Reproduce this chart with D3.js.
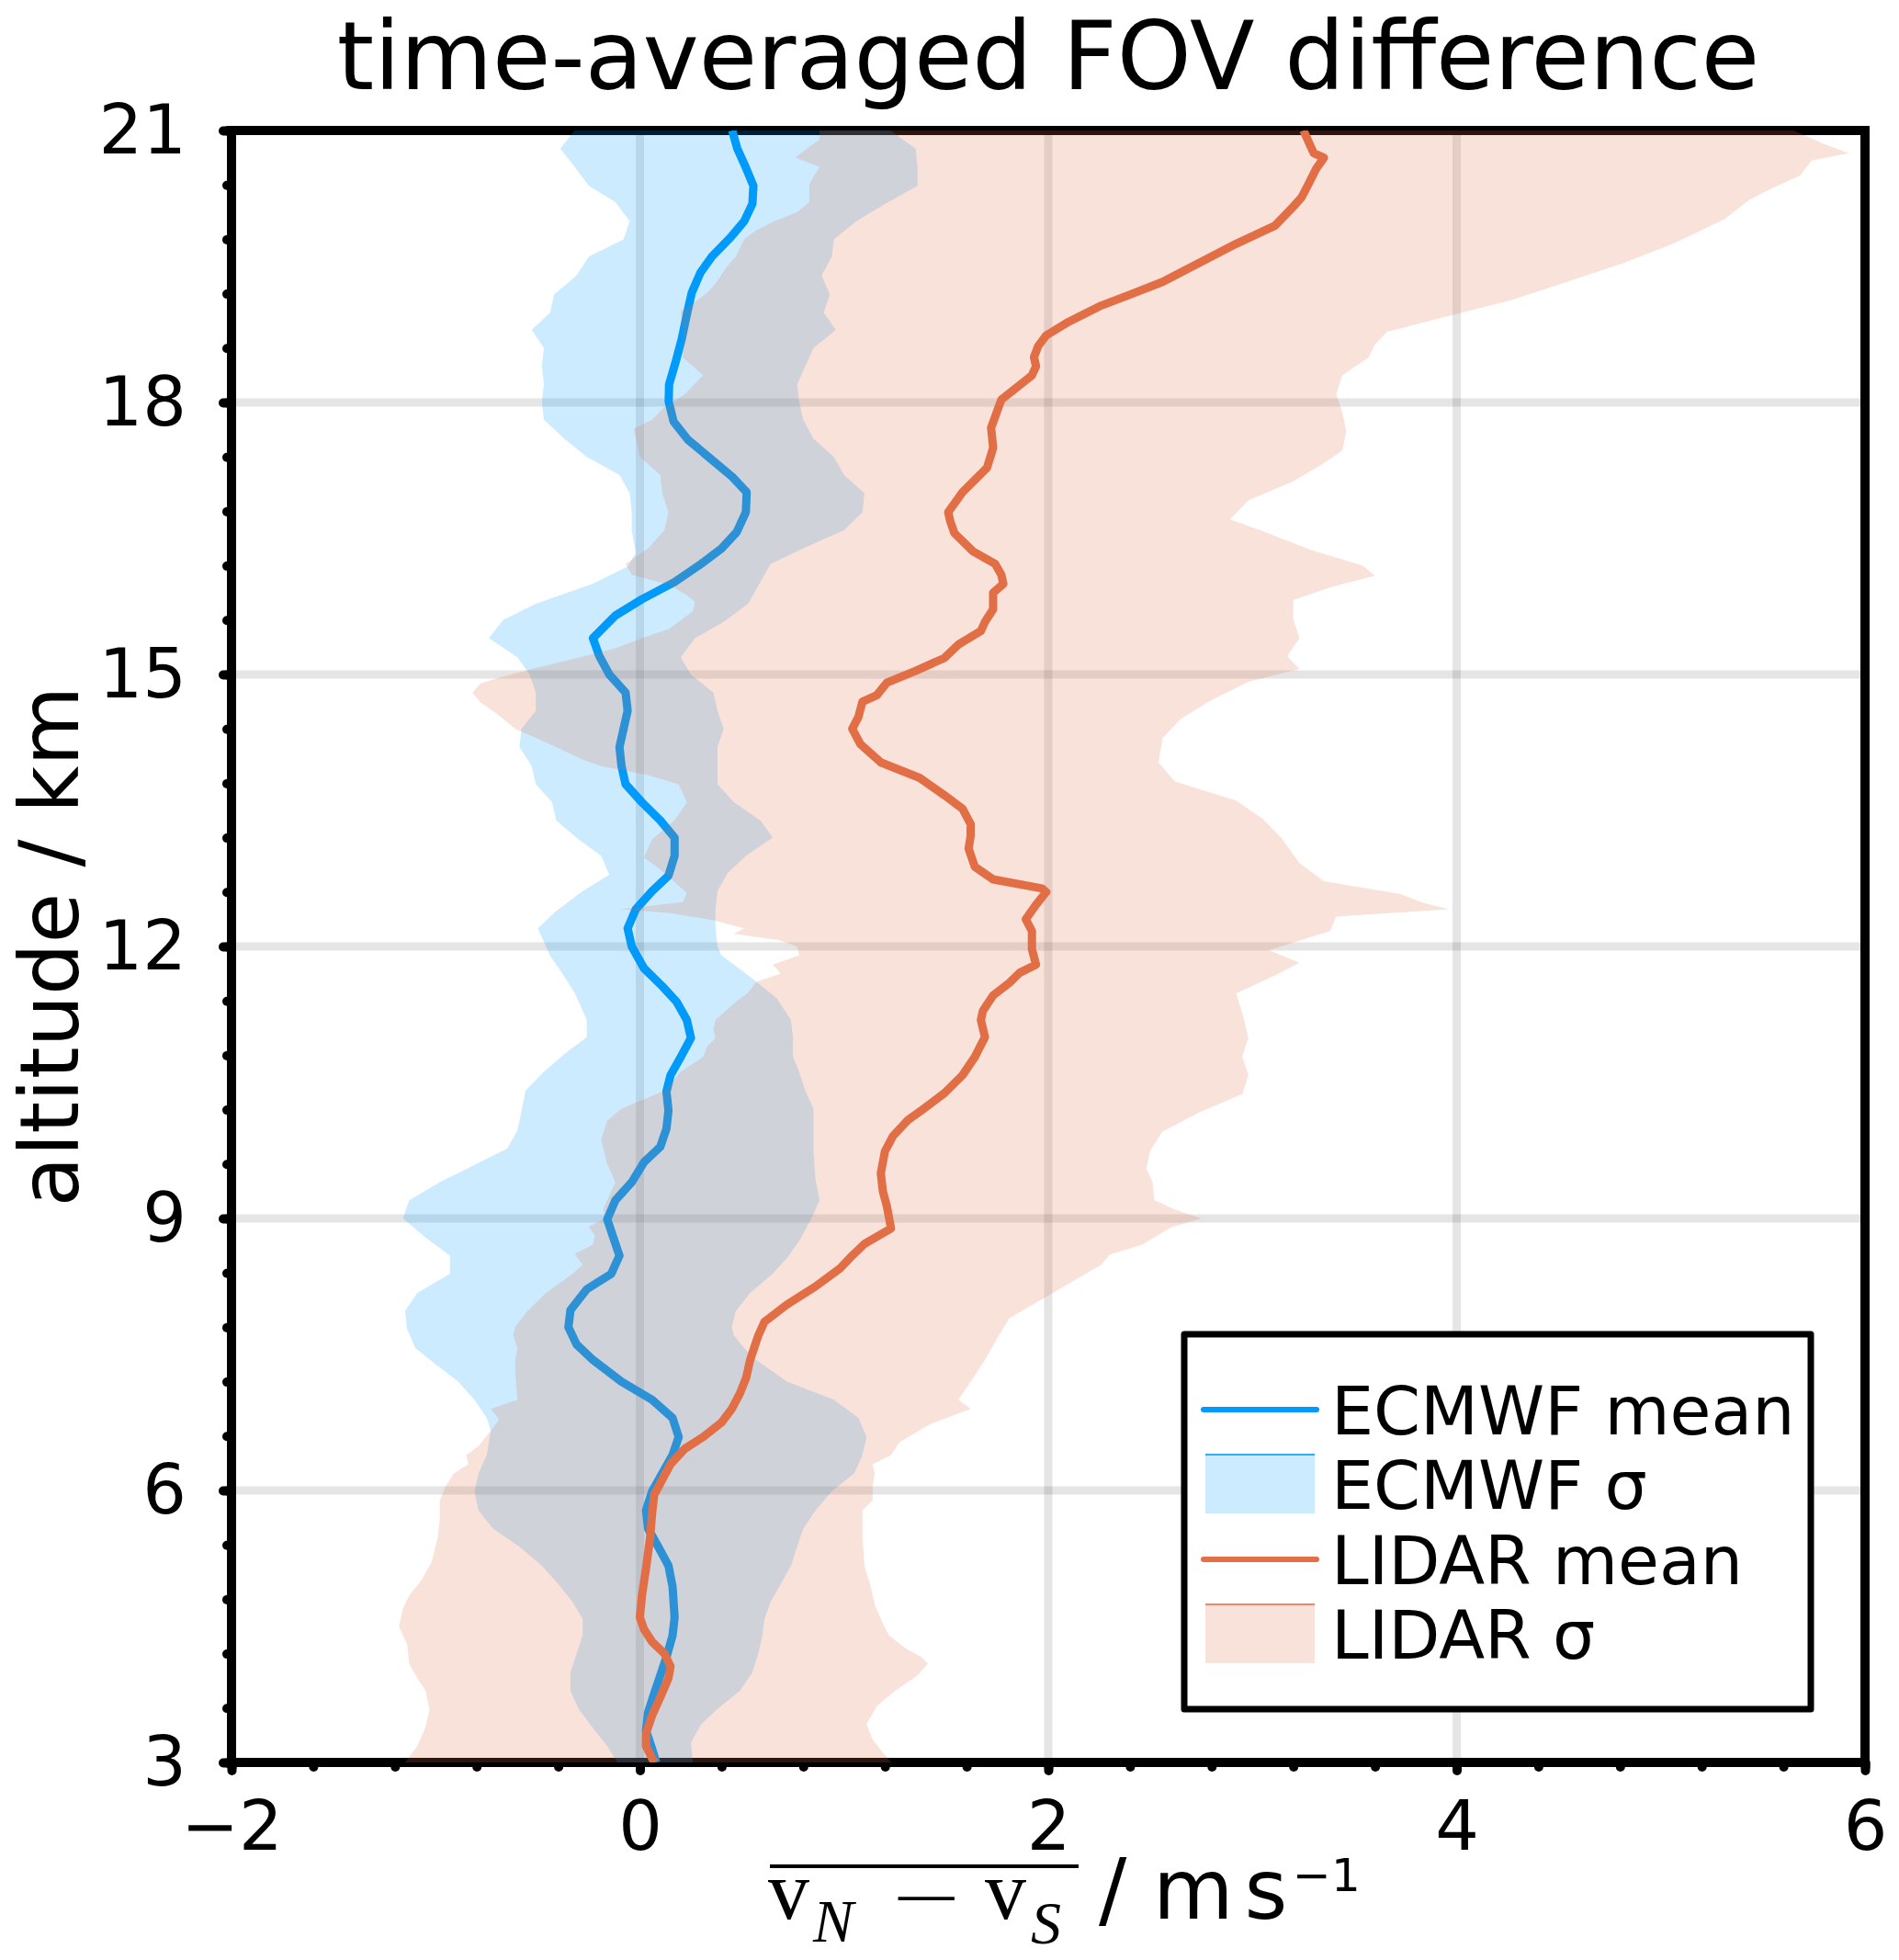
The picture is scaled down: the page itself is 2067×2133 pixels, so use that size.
<!DOCTYPE html>
<html><head><meta charset="utf-8">
<script src="https://cdn.jsdelivr.net/npm/d3@7"></script>
<style>body{margin:0;background:#fff}svg{display:block}</style>
</head><body>
<script>
// ---------- data: [altitude km, value m/s] ----------
const xTicks = [-2, 0, 2, 4, 6];
const yTicks = [3, 6, 9, 12, 15, 18, 21];
const seriesNames = ["ECMWF mean", "ECMWF σ", "LIDAR mean", "LIDAR σ"];

const ecmwfMean = [[21,0.452],[20.80,0.477],[20.59,0.519],[20.39,0.556],[20.19,0.551],[20.0,0.511],[19.82,0.444],[19.61,0.353],[19.43,0.296],[19.21,0.254],[18.97,0.23],[18.70,0.205],[18.43,0.173],[18.20,0.143],[18.01,0.141],[17.79,0.165],[17.59,0.235],[17.39,0.341],[17.18,0.452],[17.01,0.523],[16.79,0.519],[16.57,0.474],
[16.39,0.40],[16.22,0.30],[16.02,0.17],[15.83,0.01],[15.65,-0.12],[15.40,-0.23],[15.21,-0.20],[15.0,-0.15],[14.80,-0.07],[14.60,-0.06],[14.40,-0.08],[14.20,-0.10],[13.99,-0.09],[13.79,-0.07],[13.59,0.01],[13.39,0.10],[13.2,0.17],[13.0,0.17],[12.78,0.14],[12.61,0.06],[12.41,-0.02],[12.2,-0.06],[12.0,-0.04],
[11.76,0.02],[11.56,0.11],[11.39,0.18],[11.19,0.23],[10.99,0.25],[10.78,0.20],[10.58,0.15],[10.40,0.13],[10.19,0.14],[9.99,0.13],[9.79,0.10],[9.62,0.02],[9.40,-0.04],[9.20,-0.12],[8.99,-0.16],[8.79,-0.13],[8.59,-0.10],[8.39,-0.14],[8.22,-0.26],[7.99,-0.34],[7.80,-0.35],[7.61,-0.31],
[7.44,-0.23],[7.20,-0.09],[7.0,0.06],[6.80,0.16],[6.59,0.19],[6.39,0.16],[6.19,0.11],[5.99,0.06],[5.78,0.03],[5.58,0.04],[5.38,0.09],[5.17,0.14],[4.94,0.16],[4.60,0.17],[4.40,0.16],[4.16,0.13],[3.96,0.10],[3.76,0.07],[3.55,0.04],[3.35,0.03],[3.15,0.06],[3.0,0.08]];

const ecmwfLow = [[21,-0.32],[20.80,-0.39],[20.63,-0.33],[20.39,-0.25],[20.21,-0.12],[20.0,-0.05],[19.80,-0.08],[19.61,-0.25],[19.40,-0.31],[19.19,-0.42],[18.99,-0.44],[18.80,-0.53],[18.60,-0.47],[18.40,-0.48],[18.20,-0.47],[18.01,-0.48],[17.81,-0.47],[17.60,-0.37],[17.40,-0.26],[17.20,-0.10],[17.0,-0.05],[16.79,-0.04],[16.59,-0.04],[16.34,-0.02],
[16.19,-0.06],[16.0,-0.23],[15.78,-0.51],[15.6,-0.67],[15.4,-0.74],[15.19,-0.60],[15.0,-0.54],[14.8,-0.51],[14.6,-0.51],[14.4,-0.58],[14.2,-0.59],[13.99,-0.53],[13.79,-0.51],[13.59,-0.43],[13.39,-0.41],[13.18,-0.30],[13.0,-0.19],[12.79,-0.15],[12.61,-0.28],[12.39,-0.41],[12.2,-0.50],[12.0,-0.46],
[11.9,-0.44],[11.7,-0.38],[11.49,-0.32],[11.29,-0.28],[11.19,-0.26],[11.0,-0.26],[10.85,-0.35],[10.62,-0.47],[10.41,-0.56],[10.18,-0.58],[9.97,-0.60],[9.77,-0.65],[9.59,-0.81],[9.40,-0.98],[9.20,-1.13],[9.0,-1.16],[8.79,-1.05],[8.59,-0.93],[8.39,-0.93],[8.18,-1.09],[7.98,-1.15],[7.78,-1.14],[7.57,-1.10],
[7.41,-1.01],[7.20,-0.89],[7.0,-0.81],[6.80,-0.75],[6.66,-0.73],[6.39,-0.75],[6.19,-0.79],[5.99,-0.81],[5.78,-0.79],[5.58,-0.72],[5.38,-0.59],[5.17,-0.48],[4.97,-0.40],[4.77,-0.33],[4.58,-0.28],[4.40,-0.28],[4.20,-0.31],[3.99,-0.34],[3.79,-0.34],[3.59,-0.30],[3.38,-0.23],[3.18,-0.16],[3.0,-0.11]];

const ecmwfHigh = [[21,1.23],[20.93,1.27],[20.80,1.35],[20.59,1.36],[20.39,1.36],[20.19,1.2],[20.0,1.06],[19.80,0.95],[19.61,0.94],[19.40,0.89],[19.19,0.93],[18.99,0.90],[18.80,0.96],[18.60,0.85],[18.40,0.81],[18.20,0.77],[18.01,0.78],[17.81,0.80],[17.60,0.85],[17.40,0.95],[17.20,1.0],[17.0,1.10],[16.79,1.09],[16.59,1.0],[16.39,0.80],
[16.22,0.64],[16.02,0.59],[15.78,0.53],[15.58,0.41],[15.4,0.27],[15.19,0.20],[15.0,0.25],[14.8,0.36],[14.6,0.38],[14.4,0.41],[14.2,0.38],[13.99,0.38],[13.79,0.38],[13.59,0.46],[13.39,0.59],[13.2,0.65],[13.0,0.52],[12.81,0.43],[12.61,0.38],[12.41,0.37],[12.2,0.37],[12.0,0.38],
[11.9,0.40],[11.80,0.46],[11.63,0.56],[11.43,0.67],[11.19,0.74],[10.99,0.75],[10.78,0.75],[10.62,0.78],[10.41,0.81],[10.21,0.85],[10.0,0.85],[9.74,0.85],[9.43,0.86],[9.20,0.88],[9.0,0.84],[8.79,0.79],[8.59,0.73],[8.39,0.65],[8.18,0.54],[7.98,0.47],[7.81,0.45],[7.71,0.46],[7.57,0.51],
[7.44,0.57],[7.20,0.72],[7.0,0.95],[6.80,1.07],[6.59,1.11],[6.39,1.09],[6.19,1.05],[5.99,0.94],[5.78,0.86],[5.58,0.80],[5.38,0.77],[5.17,0.74],[4.97,0.69],[4.77,0.64],[4.58,0.61],[4.40,0.60],[4.20,0.58],[3.99,0.55],[3.79,0.49],[3.59,0.38],[3.42,0.30],[3.22,0.25],[3.0,0.26]];

const lidarMean = [[21,3.25],[20.85,3.28],[20.75,3.30],[20.7,3.35],[20.57,3.31],[20.39,3.27],[20.26,3.24],[20.16,3.20],[19.95,3.11],[19.75,2.92],
[19.54,2.74],[19.33,2.56],[19.19,2.40],[19.06,2.25],[18.89,2.10],[18.74,1.99],[18.62,1.95],[18.5,1.93],[18.4,1.94],[18.30,1.92],[18.03,1.77],[17.72,1.72],[17.50,1.73],[17.28,1.70],[17.01,1.58],[16.79,1.51],[16.69,1.52],
[16.56,1.54],[16.36,1.63],[16.22,1.74],[16.1,1.77],[16.0,1.78],[15.9,1.73],[15.72,1.73],[15.58,1.69],[15.48,1.67],[15.33,1.56],[15.18,1.49],[15.04,1.35],[14.91,1.21],[14.77,1.16],[14.70,1.09],[14.53,1.07],[14.40,1.04],[14.23,1.08],[14.03,1.18],[13.86,1.37],[13.67,1.49],[13.52,1.58],[13.35,1.62],[13.22,1.62],[13.08,1.61],[12.88,1.64],[12.74,1.73],[12.64,1.97],[12.6,1.99],[12.46,1.94],[12.3,1.89],[12.17,1.92],
[11.97,1.92],[11.80,1.94],[11.71,1.86],[11.60,1.81],[11.46,1.73],[11.29,1.68],[11.19,1.67],[11.0,1.69],[10.78,1.64],[10.58,1.58],[10.38,1.49],[10.21,1.39],[10.08,1.31],[9.91,1.24],[9.74,1.20],[9.50,1.18],[9.30,1.19],[9.13,1.21],[9.01,1.22],[8.89,1.23],[8.72,1.10],[8.59,1.04],[8.45,0.98],[8.25,0.86],[8.05,0.72],[7.86,0.61],[7.71,0.58],
[7.44,0.54],[7.24,0.52],[7.07,0.49],[6.90,0.45],[6.75,0.40],[6.59,0.31],[6.46,0.22],[6.29,0.15],[6.12,0.11],[5.95,0.07],[5.75,0.06],[5.48,0.05],[5.14,0.03],[4.84,0.01],[4.60,0.00],[4.47,0.02],[4.33,0.06],[4.20,0.12],[4.06,0.15],[3.93,0.14],[3.72,0.10],[3.52,0.06],[3.32,0.03],[3.18,0.03],[3.0,0.07]];

const lidarLow = [[21,0.88],[20.90,0.88],[20.70,0.76],[20.60,0.88],[20.41,0.83],[20.21,0.83],[20.10,0.77],[20.0,0.66],[19.90,0.57],[19.80,0.51],[19.61,0.47],[19.51,0.43],[19.31,0.37],[19.21,0.33],[19.11,0.27],[19.01,0.20],[18.80,0.21],[18.50,0.21],[18.30,0.31],[18.09,0.22],[17.93,0.11],[17.81,0.06],[17.71,-0.03],[17.40,0.0],[17.20,0.10],[17.0,0.11],[16.79,0.14],[16.59,0.12],[16.39,0.04],
[16.22,-0.07],[16.1,-0.04],[15.99,0.14],[15.89,0.22],[15.80,0.27],[15.70,0.26],[15.58,0.19],[15.5,0.14],[15.40,0.01],[15.29,-0.12],[15.18,-0.31],[15.07,-0.51],[14.97,-0.68],[14.9,-0.78],[14.80,-0.82],[14.69,-0.78],[14.55,-0.69],[14.4,-0.61],[14.3,-0.51],[14.2,-0.41],[14.06,-0.28],[13.99,-0.19],[13.89,0.04],[13.79,0.19],[13.59,0.23],[13.39,0.17],[13.18,0.06],[12.98,0.02],[12.85,0.10],[12.71,0.17],[12.59,0.23],[12.49,0.21],[12.41,-0.10],[12.37,0.14],[12.29,0.36],[12.2,0.51],[12.14,0.46],[12.07,0.68],[12.0,0.77],
[11.90,0.78],[11.80,0.65],[11.70,0.69],[11.61,0.57],[11.49,0.53],[11.39,0.47],[11.19,0.37],[11.09,0.36],[10.99,0.37],[10.90,0.33],[10.78,0.31],[10.62,0.20],[10.41,0.12],[10.21,-0.09],[10.08,-0.16],[9.87,-0.19],[9.60,-0.16],[9.40,-0.12],[9.20,-0.16],[9.10,-0.18],[9.0,-0.17],[8.91,-0.25],[8.81,-0.22],[8.71,-0.23],[8.61,-0.32],[8.49,-0.28],[8.39,-0.33],[8.18,-0.46],[7.98,-0.55],[7.81,-0.61],[7.71,-0.62],[7.57,-0.60],[7.44,-0.61],
[7.30,-0.61],[7.0,-0.60],[6.90,-0.73],[6.78,-0.69],[6.63,-0.74],[6.49,-0.79],[6.39,-0.85],[6.29,-0.84],[6.19,-0.91],[6.05,-0.95],[5.89,-0.98],[5.68,-0.98],[5.48,-0.99],[5.21,-1.02],[5.01,-1.07],[4.84,-1.13],[4.70,-1.16],[4.50,-1.18],[4.30,-1.14],[4.09,-1.13],[3.93,-1.09],[3.79,-1.05],[3.59,-1.03],[3.39,-1.05],[3.18,-1.09],[3.0,-1.15]];

const lidarHigh = [[21,5.65],[20.85,5.80],[20.75,5.92],[20.67,5.74],[20.5,5.68],[20.37,5.55],[20.23,5.43],[20.02,5.31],[19.75,5.06],[19.54,4.82],[19.33,4.54],[19.13,4.27],[18.92,3.90],[18.78,3.66],[18.64,3.60],[18.5,3.57],[18.3,3.44],[18.09,3.41],[17.89,3.44],[17.68,3.46],[17.47,3.44],[17.33,3.35],[17.13,3.20],[16.92,2.98],[16.71,2.89],[16.58,3.05],[16.37,3.29],[16.2,3.54],[16.09,3.60],[15.96,3.38],[15.82,3.20],[15.61,3.20],[15.4,3.23],[15.2,3.17],[15.06,3.23],[14.92,2.98],[14.72,2.80],[14.51,2.65],[14.3,2.56],[14.03,2.54],[13.82,2.62],[13.61,2.92],[13.41,3.05],[13.2,3.14],[12.92,3.23],[12.72,3.35],[12.58,3.72],[12.48,3.84],[12.41,3.96],[12.33,3.41],[12.17,3.38],[11.96,3.08],[11.82,3.23],[11.68,3.11],[11.48,2.92],[11.27,2.95],[10.99,2.98],[10.79,2.95],[10.58,2.98],[10.37,2.95],[10.17,2.74],[9.96,2.56],[9.75,2.50],[9.55,2.48],[9.40,2.51],[9.2,2.52],[9.1,2.62],[9.0,2.75],[8.9,2.60],[8.71,2.46],[8.6,2.30],[8.49,2.26],[8.28,2.10],[7.90,1.81],[7.68,1.75],[7.44,1.69],[7.20,1.62],[7.0,1.56],[6.90,1.62],[6.73,1.42],[6.53,1.27],[6.39,1.23],[6.29,1.14],[6.19,1.15],[6.05,1.14],[5.89,1.14],[5.78,1.09],[5.48,1.09],[5.17,1.10],[4.94,1.13],[4.74,1.15],[4.53,1.19],[4.40,1.22],[4.26,1.30],[4.16,1.38],[4.09,1.41],[3.96,1.36],[3.79,1.25],[3.62,1.16],[3.42,1.11],[3.25,1.14],[3.11,1.19],[3.0,1.23]];

// ---------- layout ----------
const W = 2067, H = 2133;
const L = 252, R = 2030, T = 142, B = 1918;
const BLUE = "#009AFA", ORANGE = "#E36F47";
const FONT = "DejaVu Sans";

const svg = d3.select("body").append("svg").attr("width", W).attr("height", H);
svg.append("rect").attr("width", W).attr("height", H).attr("fill", "#fff");

const x = d3.scaleLinear().domain([-2, 6]).range([L, R]);
const y = d3.scaleLinear().domain([3, 21]).range([B, T]);

svg.append("defs").append("clipPath").attr("id", "clip")
  .append("rect").attr("x", L).attr("y", T).attr("width", R - L).attr("height", B - T);

// grid
const grid = svg.append("g");
grid.selectAll(".gx").data(xTicks).join("line")
  .attr("x1", d => x(d)).attr("x2", d => x(d)).attr("y1", T).attr("y2", B)
  .attr("stroke", "#000").attr("stroke-opacity", 0.1).attr("stroke-width", 9);
grid.selectAll(".gy").data(yTicks).join("line")
  .attr("x1", L).attr("x2", R).attr("y1", d => y(d)).attr("y2", d => y(d))
  .attr("stroke", "#000").attr("stroke-opacity", 0.1).attr("stroke-width", 9);

// frame (drawn before series, like the original)
svg.append("rect").attr("x", L).attr("y", T).attr("width", R - L).attr("height", B - T)
  .attr("fill", "none").attr("stroke", "#000").attr("stroke-width", 10);

// axes with ticks
function minorTicks(a, b, step) { const t = []; for (let v = a; v <= b + 1e-9; v += step) t.push(+v.toFixed(4)); return t; }
const fmt = d => d < 0 ? "−" + Math.abs(d) : String(d);

function styleAxis(g, w) {
  g.select(".domain").remove();
  g.selectAll(".tick line").attr("stroke", "#000").attr("stroke-width", w).attr("stroke-linecap", "round");
  g.selectAll(".tick text").attr("font-family", FONT).attr("font-size", 75).attr("fill", "#000");
}
const xMinor = svg.append("g").attr("transform", `translate(0,${B})`)
  .call(d3.axisBottom(x).tickValues(minorTicks(-2, 6, 0.4)).tickSize(5).tickFormat(""));
styleAxis(xMinor, 10);
const xMajor = svg.append("g").attr("transform", `translate(0,${B})`)
  .call(d3.axisBottom(x).tickValues(xTicks).tickSize(9).tickPadding(33).tickFormat(fmt));
styleAxis(xMajor, 10);
const yMinor = svg.append("g").attr("transform", `translate(${L},0)`)
  .call(d3.axisLeft(y).tickValues(minorTicks(3, 21, 0.6)).tickSize(5).tickFormat(""));
styleAxis(yMinor, 10);
const yMajor = svg.append("g").attr("transform", `translate(${L},0)`)
  .call(d3.axisLeft(y).tickValues(yTicks).tickSize(9).tickPadding(40).tickFormat(fmt));
styleAxis(yMajor, 10);

// series
const plot = svg.append("g").attr("clip-path", "url(#clip)");
const line = d3.line().x(d => x(d[1])).y(d => y(d[0]));
function band(low, high) { return line(low.concat(high.slice().reverse())) + "Z"; }

plot.append("path").attr("d", line(ecmwfMean)).attr("fill", "none").attr("stroke", BLUE)
  .attr("stroke-width", 9).attr("stroke-linejoin", "round");
plot.append("path").attr("d", band(ecmwfLow, ecmwfHigh)).attr("fill", BLUE).attr("fill-opacity", 0.2).attr("stroke", "none");
plot.append("path").attr("d", line(lidarMean)).attr("fill", "none").attr("stroke", ORANGE)
  .attr("stroke-width", 9).attr("stroke-linejoin", "round");
plot.append("path").attr("d", band(lidarLow, lidarHigh)).attr("fill", ORANGE).attr("fill-opacity", 0.2).attr("stroke", "none");

// title
svg.append("text").attr("x", (L + R) / 2).attr("y", 97).attr("text-anchor", "middle")
  .attr("font-family", FONT).attr("font-size", 103).text("time-averaged FOV difference");

// y label
svg.append("text").attr("transform", `translate(85,${(T + B) / 2}) rotate(-90)`).attr("text-anchor", "middle")
  .attr("font-family", FONT).attr("font-size", 89).text("altitude / km");

// x label: overline(v_N − v_S) / m s^-1
const xl = svg.append("g");
const SERIF = "Liberation Serif";
xl.append("line").attr("x1", 838).attr("x2", 1174).attr("y1", 2031).attr("y2", 2031).attr("stroke", "#000").attr("stroke-width", 4);
xl.append("text").attr("x", 836).attr("y", 2088).attr("font-family", SERIF).attr("font-size", 90).text("v");
xl.append("text").attr("x", 885).attr("y", 2113).attr("font-family", SERIF).attr("font-style", "italic").attr("font-size", 66).text("N");
xl.append("text").attr("x", 967).attr("y", 2097).attr("font-family", FONT).attr("font-size", 98).attr("font-weight", 200).text("−");
xl.append("text").attr("x", 1072).attr("y", 2088).attr("font-family", SERIF).attr("font-size", 90).text("v");
xl.append("text").attr("x", 1122).attr("y", 2115).attr("font-family", SERIF).attr("font-style", "italic").attr("font-size", 66).text("S");
const unit = xl.append("text").attr("x", 1196).attr("y", 2088).attr("font-family", FONT).attr("font-size", 90);
unit.append("tspan").text("/ m");
unit.append("tspan").attr("dx", 12).text("s");
xl.append("text").attr("x", 1407).attr("y", 2058).attr("font-family", FONT).attr("font-size", 50).text("−1");

// legend
const lg = svg.append("g");
lg.append("rect").attr("x", 1289).attr("y", 1452).attr("width", 682).attr("height", 408)
  .attr("fill", "#fff").attr("stroke", "#000").attr("stroke-width", 7).attr("stroke-linejoin", "round");
const rowY = [1534, 1615, 1697, 1778];
const rowColor = [BLUE, BLUE, ORANGE, ORANGE];
seriesNames.forEach((name, i) => {
  const cy = rowY[i];
  if (i % 2 === 0) {
    lg.append("line").attr("x1", 1310).attr("x2", 1433).attr("y1", cy).attr("y2", cy)
      .attr("stroke", rowColor[i]).attr("stroke-width", 6).attr("stroke-linecap", "round");
  } else {
    lg.append("rect").attr("x", 1312).attr("y", cy - 32).attr("width", 119).attr("height", 64)
      .attr("fill", rowColor[i]).attr("fill-opacity", 0.2);
    lg.append("line").attr("x1", 1312).attr("x2", 1431).attr("y1", cy - 32).attr("y2", cy - 32)
      .attr("stroke", rowColor[i]).attr("stroke-width", 2).attr("stroke-opacity", 0.8);
  }
  lg.append("text").attr("x", 1449).attr("y", cy + 27).attr("font-family", FONT).attr("font-size", 73).text(name);
});
</script>
</body></html>
